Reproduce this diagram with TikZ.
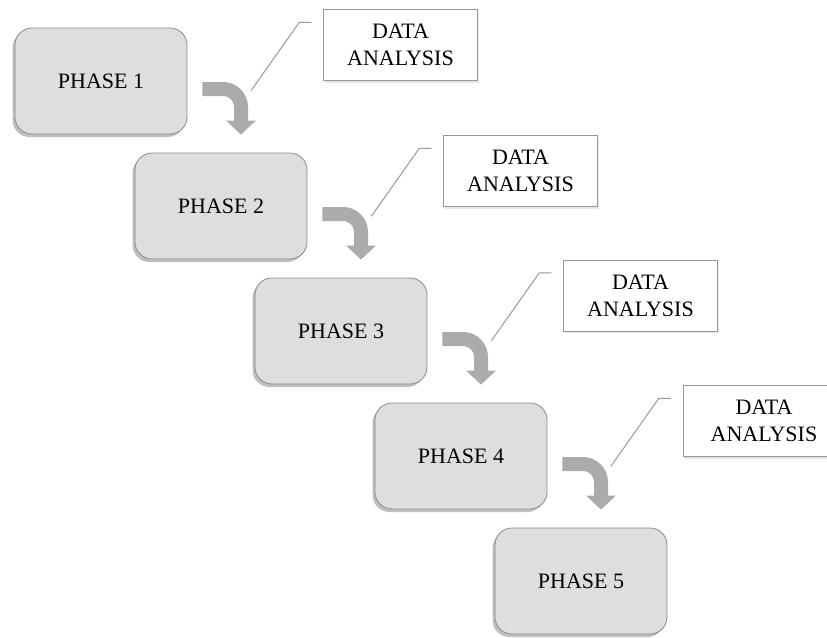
\documentclass[tikz,border=0pt]{standalone}
\usepackage{fontspec}
\setmainfont{Liberation Serif}
\usetikzlibrary{arrows.meta, shadows}

\definecolor{boxfill}{HTML}{DEDEDE}
\definecolor{boxline}{HTML}{8A8A8A}
\definecolor{arrfill}{HTML}{ABABAB}
\definecolor{leadcol}{HTML}{999999}

\begin{document}
\begin{tikzpicture}[x=1pt, y=-1pt, every text node part/.style={align=center}]

\tikzstyle{phase}=[draw=boxline, fill=boxfill, rounded corners=17pt, thick,
  minimum width=172pt, minimum height=106pt,
  font=\fontsize{22}{27}\selectfont,
  drop shadow={shadow xshift=-2.5pt, shadow yshift=-3pt, opacity=0.5}]
\tikzstyle{note}=[draw=leadcol, fill=white, minimum width=154pt, minimum height=71pt,
  font=\fontsize{22}{27}\selectfont,
  drop shadow={shadow xshift=1pt, shadow yshift=-2pt, opacity=0.2}]
\tikzstyle{arr}=[draw=arrfill, line width=14pt, rounded corners=18pt,
  -{Triangle[length=14pt, width=29pt, fill=arrfill]}]
\tikzstyle{lead}=[draw=leadcol, line width=1pt]

\useasboundingbox (0,0) rectangle (827,637);
\clip (0,0) rectangle (827,637);

\node (p1) [phase] at (101, 81)  {PHASE 1};
\node (p2) [phase] at (221, 206) {PHASE 2};
\node (p3) [phase] at (341, 331) {PHASE 3};
\node (p4) [phase] at (461, 456) {PHASE 4};
\node (p5) [phase] at (581, 581) {PHASE 5};

\node (da1) [note] at (400.5, 45)  {DATA\\ANALYSIS};
\node (da2) [note] at (520.5, 171) {DATA\\ANALYSIS};
\node (da3) [note] at (640.5, 295.5) {DATA\\ANALYSIS};
\node (da4) [note, minimum width=162pt] at (764, 421) {DATA\\ANALYSIS};

\path [arr] ([shift={(15,8)}]p1.east) -| ([shift={(20,-18)}]p2.north);
\path [arr] ([shift={(15,8)}]p2.east) -| ([shift={(20,-18)}]p3.north);
\path [arr] ([shift={(15,8)}]p3.east) -| ([shift={(20,-18)}]p4.north);
\path [arr] ([shift={(15,8)}]p4.east) -| ([shift={(20,-18)}]p5.north);

\path [lead] ([shift={(-12,13)}]da1.north west) -- ++(-12,0) -- ++(-48,68);
\path [lead] ([shift={(-12,13)}]da2.north west) -- ++(-12,0) -- ++(-48,68);
\path [lead] ([shift={(-12,13)}]da3.north west) -- ++(-12,0) -- ++(-48,68);
\path [lead] ([shift={(-12,13)}]da4.north west) -- ++(-12,0) -- ++(-48,68);
\end{tikzpicture}
\end{document}
